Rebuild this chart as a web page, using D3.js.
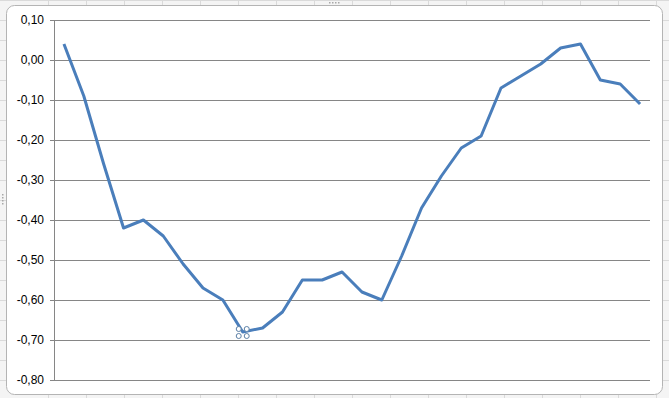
<!DOCTYPE html>
<html>
<head>
<meta charset="utf-8">
<script src="https://cdnjs.cloudflare.com/ajax/libs/d3/7.8.5/d3.min.js"></script>
<style>
	body { margin: 0; background: #ffffff; }
	svg { display: block; }
</style>
</head>
<body>
<div id="chart"></div>
<script>
///////////////////////////////////////////////////////////////////////////
//////////////////////////// The data /////////////////////////////////////
///////////////////////////////////////////////////////////////////////////

//One value per category from left to right
var values = [0.04, -0.09, -0.26, -0.42, -0.40, -0.44, -0.51, -0.57, -0.60, -0.68,
	-0.67, -0.63, -0.55, -0.55, -0.53, -0.58, -0.60, -0.49, -0.37, -0.29,
	-0.22, -0.19, -0.07, -0.04, -0.01, 0.03, 0.04, -0.05, -0.06, -0.11];
var categories = values.map(function(d,i) { return i + 1; });
//The y axis ticks
var yTicks = [0.10, 0.00, -0.10, -0.20, -0.30, -0.40, -0.50, -0.60, -0.70, -0.80];
//The point that is shown as selected
var selectedIndex = 9;

///////////////////////////////////////////////////////////////////////////
///////////////////// Initiate global variables ///////////////////////////
///////////////////////////////////////////////////////////////////////////

var width = 669,
	height = 398,
	plot = {left: 54, right: 650, top: 20, bottom: 380},
	lineColor = "#4a7ebb",
	gridColor = "#868686";

var svg = d3.select("#chart").append("svg")
	.attr("width", width)
	.attr("height", height);

//Spreadsheet cells behind the chart
var cells = svg.append("g").attr("class", "cells");
cells.append("rect")
	.attr("width", width).attr("height", height)
	.style("fill", "#f4f4f4");
cells.selectAll(".rowLine")
	.data(d3.range(0, height, 20))
	.enter().append("line")
	.attr("x1", 0).attr("x2", width)
	.attr("y1", function(d) { return d + 0.5; })
	.attr("y2", function(d) { return d + 0.5; })
	.style("stroke", "#dadada");
cells.selectAll(".colLine")
	.data(d3.range(48, width, 38))
	.enter().append("line")
	.attr("y1", 0).attr("y2", height)
	.attr("x1", function(d) { return d + 0.5; })
	.attr("x2", function(d) { return d + 0.5; })
	.style("stroke", "#dadada");

//The chart area itself
svg.append("rect")
	.attr("x", 6.5).attr("y", 5.5)
	.attr("width", 656).attr("height", 389)
	.attr("rx", 8).attr("ry", 8)
	.style("fill", "#ffffff")
	.style("stroke", "#b4b4b4");

//Resize handles of the selected chart (little dots, top middle and left middle)
svg.selectAll(".topHandle")
	.data(d3.range(4))
	.enter().append("rect")
	.attr("class", "topHandle")
	.attr("x", function(d) { return 329 + d * 3; })
	.attr("y", 2)
	.attr("width", 1.5).attr("height", 1.5)
	.style("fill", "#a8a8a8");
svg.selectAll(".leftHandle")
	.data(d3.range(4))
	.enter().append("rect")
	.attr("class", "leftHandle")
	.attr("x", 2)
	.attr("y", function(d) { return 194 + d * 3; })
	.attr("width", 1.5).attr("height", 1.5)
	.style("fill", "#a8a8a8");

///////////////////////////////////////////////////////////////////////////
//////////////////////////// Scales & axes ////////////////////////////////
///////////////////////////////////////////////////////////////////////////

var x = d3.scaleBand()
	.domain(categories)
	.range([plot.left, plot.right]);

var y = d3.scaleLinear()
	.domain([-0.80, 0.10])
	.range([plot.bottom, plot.top]);

var fmt = function(d) { return d3.format(".2f")(d).replace(".", ",").replace("−", "-"); };

//Horizontal gridlines
svg.append("g")
	.attr("class", "grid")
	.attr("transform", "translate(" + plot.left + ",0)")
	.call(d3.axisRight(y).tickValues(yTicks).tickSize(plot.right - plot.left).tickFormat(""))
	.call(function(g) {
		g.select(".domain").remove();
		g.selectAll("line").style("stroke", gridColor);
	});

//Y axis on the left
svg.append("g")
	.attr("class", "yAxis")
	.attr("transform", "translate(" + plot.left + ",0)")
	.call(d3.axisLeft(y).tickValues(yTicks).tickSize(4).tickPadding(6).tickFormat(fmt))
	.call(function(g) {
		g.select(".domain").style("stroke", gridColor);
		g.selectAll("line").style("stroke", gridColor);
		g.selectAll("text")
			.attr("fill", "#000000")
			.style("font-family", "Liberation Sans, Arial, sans-serif")
			.style("font-size", "12px");
	});

///////////////////////////////////////////////////////////////////////////
////////////////////////////// The line ///////////////////////////////////
///////////////////////////////////////////////////////////////////////////

var line = d3.line()
	.x(function(d,i) { return x(categories[i]) + x.bandwidth() / 2; })
	.y(function(d) { return y(d); });

svg.append("path")
	.datum(values)
	.attr("d", line)
	.style("fill", "none")
	.style("stroke", lineColor)
	.style("stroke-width", 3)
	.style("stroke-linejoin", "round");

//Selection handles round the selected point
var selX = x(categories[selectedIndex]) + x.bandwidth() / 2,
	selY = y(values[selectedIndex]);
svg.selectAll(".handle")
	.data([[-4, -3], [4, -3], [-4, 4], [4, 4]])
	.enter().append("circle")
	.attr("class", "handle")
	.attr("cx", function(d) { return selX + d[0]; })
	.attr("cy", function(d) { return selY + d[1]; })
	.attr("r", 2.5)
	.style("fill", "#ffffff")
	.style("stroke", "#5b7fa6")
	.style("stroke-width", 1);
</script>
</body>
</html>
